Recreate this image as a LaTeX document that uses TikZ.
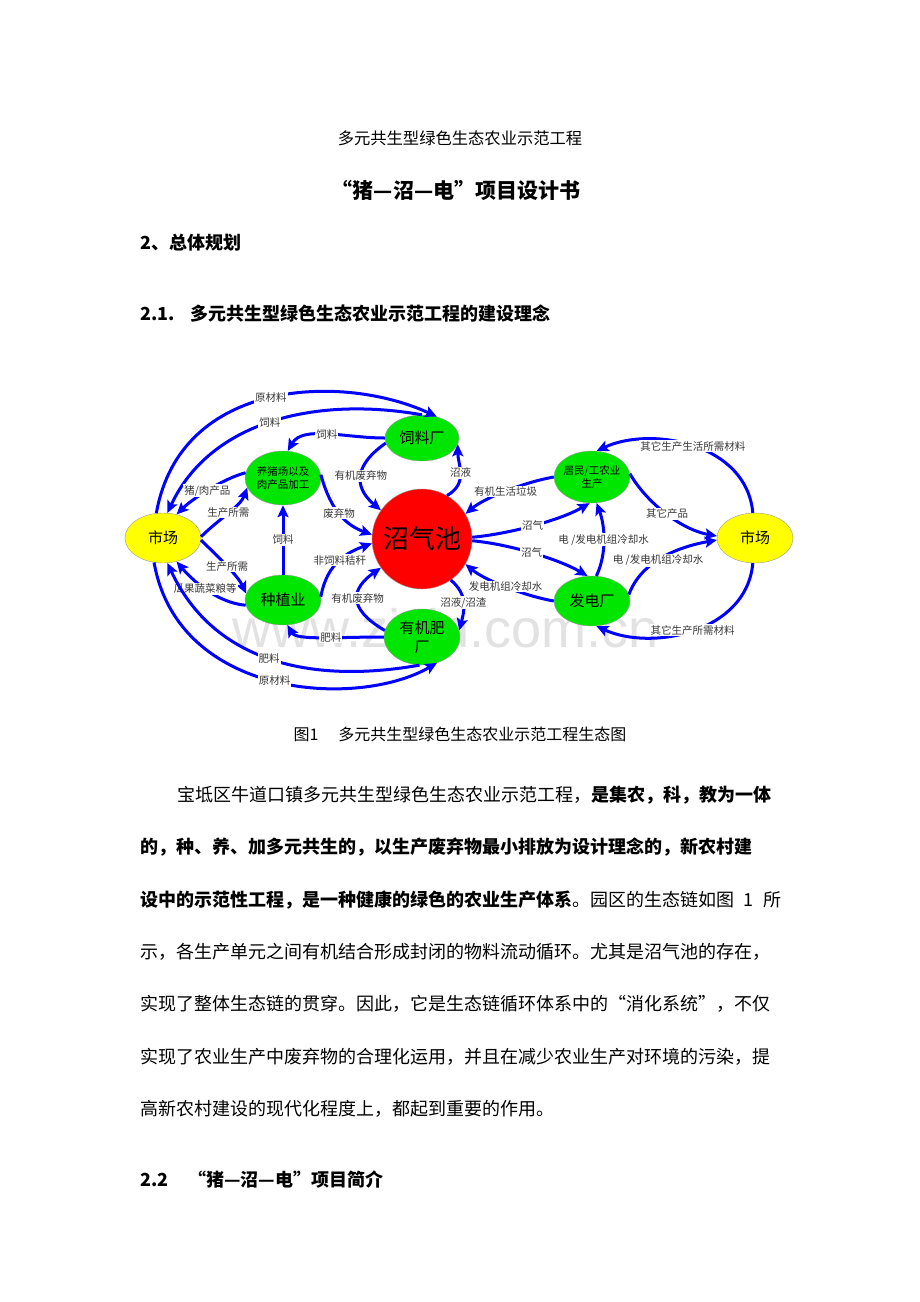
\documentclass[tikz,border=0pt]{standalone}
\usepackage{fontspec}
\setmainfont{Noto Sans CJK SC}
\newfontfamily\wmfont{Liberation Sans}
\usetikzlibrary{shapes.geometric,arrows.meta}
\XeTeXlinebreaklocale "zh"
\XeTeXlinebreakskip=0pt plus 4pt
\definecolor{fblue}{RGB}{0,0,255}
\definecolor{fgreen}{RGB}{0,230,0}
\definecolor{fyellow}{RGB}{255,255,0}
\definecolor{fred}{RGB}{255,0,0}
\definecolor{lblgray}{RGB}{55,55,55}
\definecolor{wmgray}{RGB}{226,226,226}
\tikzset{
  unit/.style={ellipse, draw=black!40, line width=0.4pt, inner sep=0pt, fill=fgreen,
    minimum width=76pt, minimum height=50pt, align=center, font=\fontsize{15}{19}\selectfont},
  market/.style={unit, fill=fyellow},
  smalltext/.style={font=\fontsize{10.5}{13}\selectfont, inner xsep=-3pt},
  flow/.style={draw=fblue, line width=3pt, -{Stealth[length=12pt,width=11pt,inset=2.5pt]}},
  lbl/.style={fill=white, inner sep=1pt, font=\fontsize{10.5}{11}\selectfont, text=lblgray},
  bodyline/.style={anchor=west, inner sep=0pt, font=\fontsize{18}{20}\selectfont},
  heading/.style={anchor=west, inner sep=0pt, font=\bfseries\fontsize{18}{20}\selectfont},
}
\begin{document}
\begin{tikzpicture}
\useasboundingbox (0,0) rectangle (920pt,-1302pt);
\fill[white] (0,0) rectangle (920pt,-1302pt);
\begin{scope}[x=1pt,y=1pt]
% headings
\node[font=\fontsize{16.3}{18}\selectfont] (t1) at (460,-138) {多元共生型绿色生态农业示范工程};
\node[font=\bfseries\fontsize{21}{24}\selectfont] (t2) at (456,-190) {“猪—沼—电”项目设计书};
\node[heading] (h2) at (140,-243) {2、总体规划};
\node[heading] (h21) at (140,-314) {2.1.\hspace{16pt}多元共生型绿色生态农业示范工程的建设理念};

% watermark
\node[font=\wmfont\fontsize{54}{54}\selectfont, text=wmgray] (wm) at (446,-628) {www.zixin.com.cn};

% nodes
\node[market] (mktL) at (163,-538) {市场};
\node[market] (mktR) at (755,-538) {市场};
\node[unit, minimum width=74pt, minimum height=46pt] (feed) at (422,-438) {饲料厂};
\node[unit, smalltext, minimum height=54pt] (pig) at (283,-478) {养猪场以及\\肉产品加工};
\node[circle, fill=fred, draw=black!40, line width=0.4pt, minimum size=100pt, inner sep=0pt,
  font=\fontsize{26}{28}\selectfont] (pool) at (422,-539) {沼气池};
\node[unit] (crop) at (283,-600) {种植业};
\node[unit, minimum height=56pt] (fert) at (422,-637) {有机肥\\厂};
\node[unit, smalltext, minimum height=52pt] (res) at (592,-477) {居民/工农业\\生产};
\node[unit] (power) at (592,-601) {发电厂};

% connectors
\draw[flow] (mktL.105) .. controls +(80:138) and +(155:102) .. (feed.55) node[lbl,pos=.5]{原材料};
\draw[flow] (feed.north) .. controls +(170:110) and +(65:100) .. (mktL.80) node[lbl,pos=.5]{饲料};
\draw[flow] (feed.180) .. controls +(180:40) and +(60:30) .. (pig.80) node[lbl,pos=.5]{饲料};
\draw[flow] (feed.188) .. controls +(215:45) and +(140:30) .. (pool.145) node[lbl,pos=.45]{有机废弃物};
\draw[flow] (pig.172) .. controls +(195:25) and +(45:20) .. (mktL.60) node[lbl,pos=.5]{猪/肉产品};
\draw[flow] (mktL.2) .. controls +(45:25) and +(250:20) .. (pig.195) node[lbl,pos=.5]{生产所需};
\draw[flow] (crop.north) -- (pig.south) node[lbl,pos=.5]{饲料};
\draw[flow] (pig.5) .. controls +(-75:40) and +(160:25) .. (pool.175) node[lbl,pos=.45]{废弃物};
\draw[flow] (crop.5) .. controls +(80:35) and +(200:25) .. (pool.185) node[lbl,pos=.5]{非饲料秸秆};
\draw[flow] (mktL.-3) .. controls +(-45:25) and +(115:20) .. (crop.170) node[lbl,pos=.5]{生产所需};
\draw[flow] (crop.188) .. controls +(175:30) and +(-50:22) .. (mktL.-60) node[lbl,pos=.5]{瓜果蔬菜粮等};
\draw[flow] (fert.180) .. controls +(180:50) and +(-60:18) .. (crop.-80) node[lbl,pos=.4]{肥料};
\draw[flow] (fert.170) .. controls +(150:45) and +(215:35) .. (pool.215) node[lbl,pos=.5]{有机废弃物};
\draw[flow] (pool.-55) .. controls +(-40:22) and +(75:22) .. (fert.10) node[lbl,pos=.5]{沼液/沼渣};
\draw[flow] (mktL.-110) .. controls +(-80:138) and +(-150:92) .. (fert.-60) node[lbl,pos=.5]{原材料};
\draw[flow] (fert.-95) .. controls +(-170:112) and +(-65:108) .. (mktL.-80) node[lbl,pos=.5]{肥料};
\draw[flow] (pool.60) .. controls +(30:25) and +(-90:20) .. (feed.-10) node[lbl,pos=.5]{沼液};
\draw[flow] (res.180) .. controls +(190:30) and +(40:25) .. (pool.30) node[lbl,pos=.5]{有机生活垃圾};
\draw[flow] (pool.2) .. controls +(5:35) and +(-150:35) .. (res.-95) node[lbl,pos=.5]{沼气};
\draw[flow] (pool.-2) .. controls +(-5:35) and +(150:35) .. (power.100) node[lbl,pos=.5]{沼气};
\draw[flow] (power.80) .. controls +(65:25) and +(-70:25) .. (res.-80) node[lbl,pos=.5]{电 /发电机组冷却水};
\draw[flow] (power.10) .. controls +(70:35) and +(190:40) .. (mktR.183) node[lbl,pos=.45]{电 /发电机组冷却水};
\draw[flow] (res.5) .. controls +(-60:35) and +(170:35) .. (mktR.177) node[lbl,pos=.5]{其它产品};
\draw[flow] (mktR.95) .. controls +(95:70) and +(25:60) .. (res.80) node[lbl,pos=.5]{其它生产生活所需材料};
\draw[flow] (mktR.-95) .. controls +(-95:70) and +(-25:60) .. (power.-80) node[lbl,pos=.5]{其它生产所需材料};
\draw[flow] (power.180) .. controls +(170:30) and +(-40:25) .. (pool.-30) node[lbl,pos=.5]{发电机组冷却水};

% caption
\node[font=\fontsize{16}{18}\selectfont] (cap) at (460,-734) {图1\hspace{20pt}多元共生型绿色生态农业示范工程生态图};

% body
\node[bodyline] (l1) at (177,-795) {\makebox[604pt][s]{宝坻区牛道口镇多元共生型绿色生态农业示范工程，{\bfseries 是集农，科，教为一体}}};
\node[bodyline] (l2) at (140,-847) {\makebox[641pt][s]{\bfseries 的，种、养、加多元共生的，以生产废弃物最小排放为设计理念的，新农村建}};
\node[bodyline] (l3) at (140,-900) {\makebox[641pt][s]{{\bfseries 设中的示范性工程，是一种健康的绿色的农业生产体系}。园区的生态链如图 1 所}};
\node[bodyline] (l4) at (140,-952) {\makebox[644pt][s]{示，各生产单元之间有机结合形成封闭的物料流动循环。尤其是沼气池的存在，}};
\node[bodyline] (l5) at (140,-1004) {\makebox[641pt][s]{实现了整体生态链的贯穿。因此，它是生态链循环体系中的“消化系统”，不仅}};
\node[bodyline] (l6) at (140,-1057) {\makebox[641pt][s]{实现了农业生产中废弃物的合理化运用，并且在减少农业生产对环境的污染，提}};
\node[bodyline] (l7) at (140,-1109) {高新农村建设的现代化程度上，都起到重要的作用。};

\node[heading] (h22) at (140,-1180) {2.2\hspace{20pt}“猪—沼—电”项目简介};
\end{scope}
\end{tikzpicture}
\end{document}
